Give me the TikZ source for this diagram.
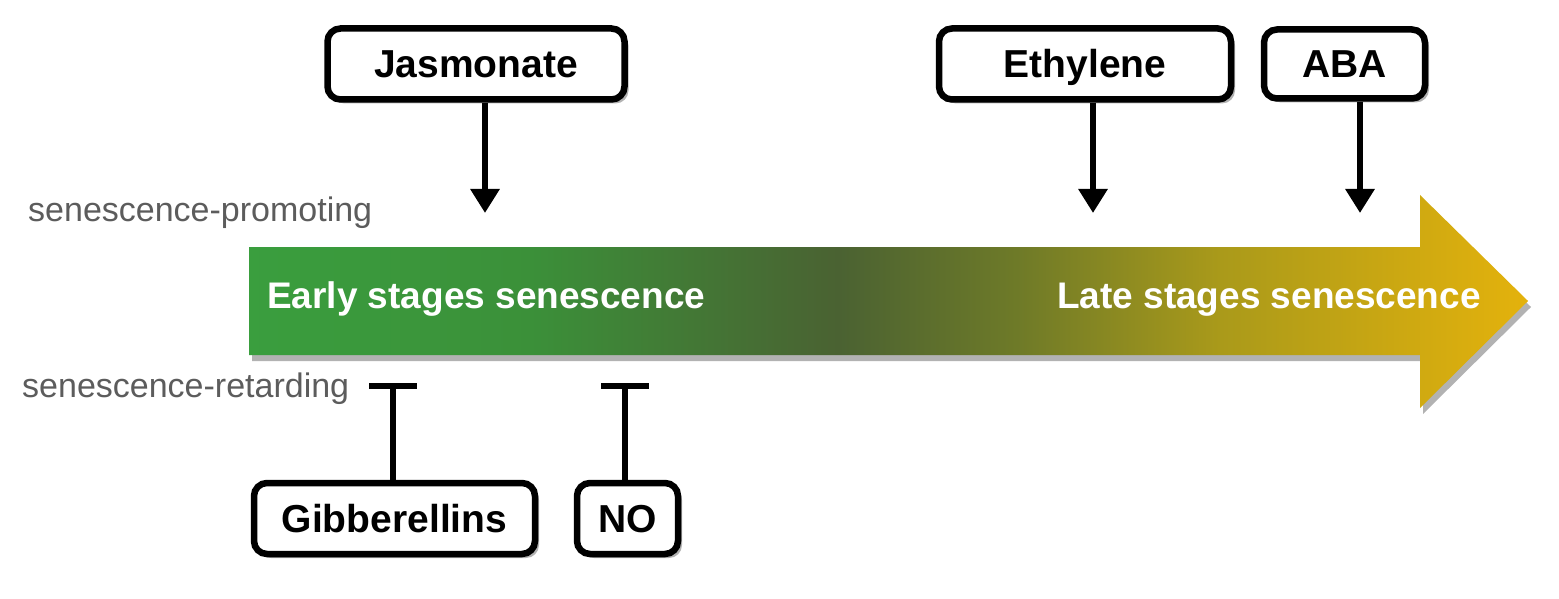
\documentclass[tikz,border=0pt]{standalone}
\usepackage{fontspec}
\setmainfont{Liberation Sans}
\usetikzlibrary{arrows.meta,shadows}
\definecolor{sg0}{HTML}{3A9E3E}
\definecolor{sg1}{HTML}{3B9039}
\definecolor{sg2}{HTML}{4A6232}
\definecolor{sg3}{HTML}{6E7A28}
\definecolor{sg4}{HTML}{AA9A1A}
\definecolor{sg5}{HTML}{E4B20C}
\definecolor{labelgray}{HTML}{5C5C5C}
\pgfdeclarehorizontalshading{senshade}{100bp}{color(0bp)=(sg0); color(25bp)=(sg0); color(36bp)=(sg1); color(48bp)=(sg2); color(55bp)=(sg3); color(63bp)=(sg4); color(75bp)=(sg5); color(100bp)=(sg5)}
\tikzset{
  hbox/.style={draw, line width=6.5pt, rounded corners=13pt, fill=white,
    font=\fontsize{39}{46}\selectfont\bfseries, inner sep=0pt,
    text height=28pt, text depth=0pt,
    drop shadow={shadow xshift=4pt, shadow yshift=-4pt, opacity=0.3, fill=black}},
  promo/.style={line width=6pt, -{Triangle[width=28pt,length=24pt]}},
  retard/.style={line width=6pt, -{Bar[width=48pt]}},
  stagetext/.style={text=white, font=\fontsize{37}{44}\selectfont\bfseries, inner sep=0pt},
  sidelabel/.style={text=labelgray, font=\fontsize{34}{40}\selectfont, inner sep=0pt, anchor=west},
}
\begin{document}
\begin{tikzpicture}[x=1pt,y=-1pt]
\useasboundingbox (0,0) rectangle (1559,599);
\fill[white] (0,0) rectangle (1559,599);
% main gradient arrow
\path[shading=senshade, shade,
  drop shadow={shadow xshift=3pt, shadow yshift=-6pt, opacity=0.3, fill=black}]
  (249,247) -- (1420,247) -- (1420,195) -- (1528,301) -- (1420,408) -- (1420,355) -- (249,355) -- cycle;
\node[stagetext, anchor=base west] (early) at (267,308) {Early stages senescence};
\node[stagetext, anchor=base east] (late) at (1481,308) {Late stages senescence};
% side labels
\node[sidelabel] (promlab) at (28,213) {senescence-promoting};
\node[sidelabel] (retlab) at (22,389) {senescence-retarding};
% hormone boxes
\node[hbox, minimum width=297pt, minimum height=71pt] (jas) at (476,64) {Jasmonate};
\node[hbox, minimum width=292pt, minimum height=71pt] (eth) at (1085,64) {Ethylene};
\node[hbox, minimum width=161pt, minimum height=69pt] (aba) at (1344.5,64) {ABA};
\node[hbox, minimum width=281pt, minimum height=71pt] (gib) at (394.5,518.5) {Gibberellins};
\node[hbox, minimum width=101pt, minimum height=71pt] (no) at (627.5,518.5) {NO};
% promoting arrows
\coordinate (jt) at (485,213);
\coordinate (et) at (1093,213);
\coordinate (at) at (1360,213);
\draw[promo] (jas.south -| jt) -- (jt);
\draw[promo] (eth.south -| et) -- (et);
\draw[promo] (aba.south -| at) -- (at);
% retarding T-bars
\coordinate (gt) at (393,383);
\coordinate (nt) at (625,383);
\draw[retard] (gib.north -| gt) -- (gt);
\draw[retard] (no.north -| nt) -- (nt);
\end{tikzpicture}
\end{document}
